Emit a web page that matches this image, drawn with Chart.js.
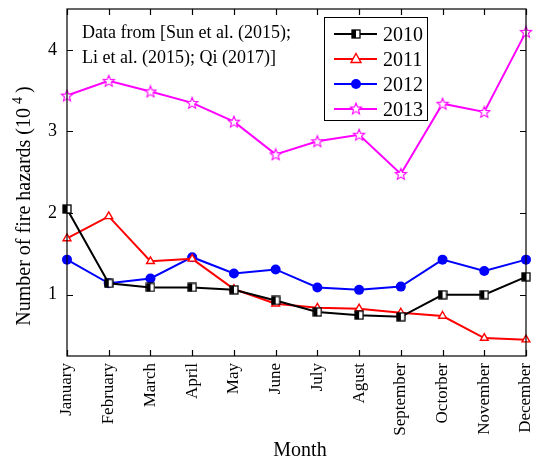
<!DOCTYPE html>
<html>
<head>
<meta charset="utf-8">
<script src="https://cdn.jsdelivr.net/npm/chart.js@4/dist/chart.umd.min.js"></script>
<style>
  html, body { margin: 0; padding: 0; background: #fff; }
  #wrap { width: 538px; height: 459px; }
</style>
</head>
<body>
<div id="wrap"><canvas id="fire"></canvas></div>
<script>
// donnees (unite : 10^4)
const months = ['January', 'February', 'March', 'April', 'May', 'June', 'July',
  'Agust', 'September', 'Octorber', 'November', 'December'];
const y2010 = [2.05, 1.14, 1.09, 1.09, 1.06, 0.93, 0.79, 0.75, 0.73, 1.00, 1.00, 1.22];
const y2011 = [1.69, 1.96, 1.41, 1.44, 1.07, 0.89, 0.84, 0.83, 0.78, 0.74, 0.47, 0.45];
const y2012 = [1.43, 1.14, 1.20, 1.46, 1.26, 1.31, 1.09, 1.06, 1.10, 1.43, 1.29, 1.43];
const y2013 = [3.44, 3.62, 3.49, 3.35, 3.12, 2.72, 2.88, 2.96, 2.48, 3.34, 3.24, 4.22];
const yTicks = [1, 2, 3, 4];
const seriesNames = ['2010', '2011', '2012', '2013'];

const SERIF = "'Liberation Serif', 'Times New Roman', serif";

// marqueur carre a moitie rempli (2010)
function halfSquare() {
    const c = document.createElement('canvas');
    c.width = 10; c.height = 10;
    const g = c.getContext('2d');
    g.fillStyle = '#fff';
    g.fillRect(1, 1, 8, 8);
    g.fillStyle = '#000';
    g.fillRect(1, 1, 4, 8);
    g.strokeStyle = '#000';
    g.lineWidth = 1.3;
    g.strokeRect(1, 1, 8, 8);
    return c;
}

// etoile a cinq branches (2013)
function starMarker() {
    const c = document.createElement('canvas');
    c.width = 14; c.height = 14;
    const g = c.getContext('2d');
    g.beginPath();
    for (let i = 0; i < 10; i++) {
        const r = i % 2 === 0 ? 6 : 2.6;
        const a = -Math.PI / 2 + i * Math.PI / 5;
        const px = 7 + r * Math.cos(a), py = 7.5 + r * Math.sin(a);
        if (i === 0) g.moveTo(px, py); else g.lineTo(px, py);
    }
    g.closePath();
    g.fillStyle = '#fff';
    g.fill();
    g.strokeStyle = '#ff00ff';
    g.lineWidth = 1.1;
    g.stroke();
    return c;
}

const sqImg = halfSquare();
const starImg = starMarker();

// cadre, graduations interieures, titres et legende
const framePlugin = {
    id: 'frame',
    afterDatasetsDraw(chart) {
        const { ctx, chartArea: a, scales } = chart;
        ctx.save();
        ctx.strokeStyle = '#000';
        ctx.lineWidth = 1.2;
        ctx.strokeRect(a.left, a.top, a.right - a.left, a.bottom - a.top);
        ctx.beginPath();
        months.forEach((m, i) => {
            const x = Math.round(scales.x.getPixelForValue(i)) + 0.5;
            ctx.moveTo(x, a.bottom); ctx.lineTo(x, a.bottom - 6);
            ctx.moveTo(x, a.top); ctx.lineTo(x, a.top + 6);
        });
        yTicks.forEach(v => {
            const y = Math.round(scales.y.getPixelForValue(v)) + 0.5;
            ctx.moveTo(a.left, y); ctx.lineTo(a.left + 6, y);
            ctx.moveTo(a.right, y); ctx.lineTo(a.right - 6, y);
        });
        ctx.stroke();
        ctx.restore();
    },
    afterDraw(chart) {
        const { ctx } = chart;
        ctx.save();
        ctx.fillStyle = '#000';

        // note sur les sources
        ctx.font = '18px ' + SERIF;
        ctx.textAlign = 'left';
        ctx.textBaseline = 'alphabetic';
        ctx.fillText('Data from [Sun et al. (2015);', 82, 38);
        ctx.fillText('Li et al. (2015); Qi (2017)]', 82, 63);

        // titre axe x
        ctx.font = '20px ' + SERIF;
        ctx.textAlign = 'center';
        ctx.fillText('Month', 300, 456);

        // titre axe y avec exposant
        ctx.translate(30, 206);
        ctx.rotate(-Math.PI / 2);
        ctx.font = '20px ' + SERIF;
        const main = 'Number of fire hazards (10';
        const wMain = ctx.measureText(main).width;
        ctx.font = '14px ' + SERIF;
        const wSup = ctx.measureText('4').width;
        ctx.font = '20px ' + SERIF;
        const wEnd = ctx.measureText(')').width;
        const total = wMain + 4 + wSup + 4 + wEnd;
        let x0 = -total / 2;
        ctx.textAlign = 'left';
        ctx.fillText(main, x0, 0);
        x0 += wMain + 4;
        ctx.font = '14px ' + SERIF;
        ctx.fillText('4', x0, -8);
        x0 += wSup + 4;
        ctx.font = '20px ' + SERIF;
        ctx.fillText(')', x0, 0);
        ctx.restore();

        // legende
        ctx.save();
        ctx.fillStyle = '#fff';
        ctx.fillRect(324, 17, 103, 103);
        ctx.strokeStyle = '#000';
        ctx.lineWidth = 1;
        ctx.strokeRect(324.5, 17.5, 103, 103);
        const rowsY = [34, 59, 84, 109];
        chart.data.datasets.forEach((ds, i) => {
            const y = rowsY[i];
            ctx.strokeStyle = ds.borderColor;
            ctx.lineWidth = 2;
            ctx.beginPath();
            ctx.moveTo(334, y); ctx.lineTo(377, y);
            ctx.stroke();
            const cx = 356;
            if (i === 0) {
                ctx.drawImage(sqImg, cx - 5, y - 5);
            } else if (i === 1) {
                ctx.beginPath();
                ctx.moveTo(cx, y - 5.5); ctx.lineTo(cx + 5, y + 3.5); ctx.lineTo(cx - 5, y + 3.5);
                ctx.closePath();
                ctx.fillStyle = '#fff'; ctx.fill();
                ctx.lineWidth = 1.4; ctx.stroke();
            } else if (i === 2) {
                ctx.beginPath();
                ctx.arc(cx, y, 5, 0, Math.PI * 2);
                ctx.fillStyle = '#0000ff'; ctx.fill();
            } else {
                ctx.drawImage(starImg, cx - 7, y - 7.5);
            }
            ctx.fillStyle = '#000';
            ctx.font = '20px ' + SERIF;
            ctx.textAlign = 'left';
            ctx.textBaseline = 'alphabetic';
            ctx.fillText(seriesNames[i], 383, y + 7);
        });
        ctx.restore();
    }
};

new Chart(document.getElementById('fire'), {
    type: 'line',
    data: {
        labels: months,
        datasets: [{
            label: seriesNames[0],
            data: y2010,
            borderColor: '#000000',
            borderWidth: 2,
            pointStyle: sqImg,
            pointRadius: 5
        }, {
            label: seriesNames[1],
            data: y2011,
            borderColor: '#ff0000',
            borderWidth: 2,
            pointStyle: 'triangle',
            pointRadius: 4.5,
            pointBackgroundColor: '#ffffff',
            pointBorderColor: '#ff0000',
            pointBorderWidth: 1.4
        }, {
            label: seriesNames[2],
            data: y2012,
            borderColor: '#0000ff',
            borderWidth: 2,
            pointStyle: 'circle',
            pointRadius: 5,
            pointBackgroundColor: '#0000ff',
            pointBorderColor: '#0000ff',
            pointBorderWidth: 0
        }, {
            label: seriesNames[3],
            data: y2013,
            borderColor: '#ff00ff',
            borderWidth: 2,
            pointStyle: starImg,
            pointRadius: 6
        }]
    },
    options: {
        responsive: true,
        maintainAspectRatio: false,
        animation: false,
        layout: { padding: { left: 0, right: 12, top: 9, bottom: 0 } },
        plugins: {
            legend: { display: false },
            tooltip: { enabled: false }
        },
        scales: {
            x: {
                type: 'category',
                offset: false,
                grid: { display: false, drawTicks: false },
                border: { display: false },
                ticks: {
                    autoSkip: false,
                    maxRotation: 90,
                    minRotation: 90,
                    padding: 7,
                    color: '#000',
                    font: { family: SERIF, size: 17 }
                },
                afterFit(scale) {
                    scale.height = 103;
                    scale.paddingLeft = 0;
                    scale.paddingRight = 0;
                }
            },
            y: {
                min: 0.25,
                max: 4.5,
                grid: { display: false, drawTicks: false },
                border: { display: false },
                afterBuildTicks(scale) {
                    scale.ticks = yTicks.map(v => ({ value: v }));
                },
                ticks: {
                    padding: 10,
                    color: '#000',
                    font: { family: SERIF, size: 18 }
                },
                afterFit(scale) {
                    scale.width = 67;
                    scale.paddingTop = 0;
                    scale.paddingBottom = 0;
                }
            }
        }
    },
    plugins: [framePlugin]
});
</script>
</body>
</html>
